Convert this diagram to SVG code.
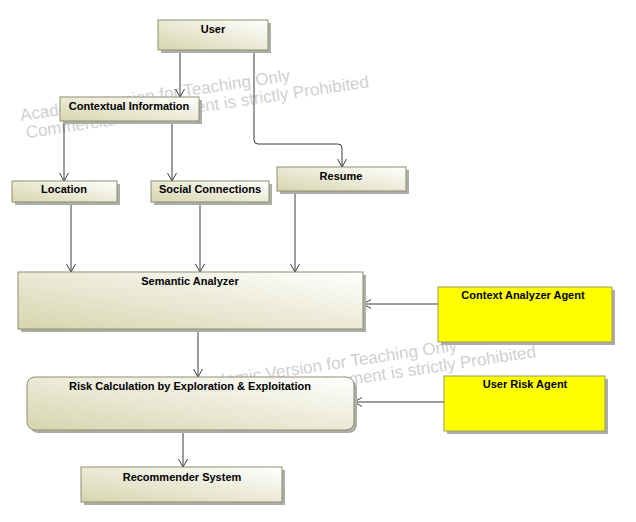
<svg xmlns="http://www.w3.org/2000/svg" width="636" height="522" viewBox="0 0 636 522">
<style>
.bg{fill:#ffffff}
.wm{font-family:"Liberation Sans",Arial,sans-serif;font-size:17px;fill:#d0d0d0}
.sh{fill:#aeaea8}
.box{fill:url(#g);stroke:#8e8d6f;stroke-width:1}
.ag{fill:#ffff00;stroke:#9a9a66;stroke-width:1}
.t{font-family:"Liberation Sans",Arial,sans-serif;font-size:11px;font-weight:bold;fill:#000;text-anchor:middle}
.c{fill:none;stroke:#3c3c3c;stroke-width:1}
</style>
<defs>
<linearGradient id="g" x1="0" y1="1" x2="1" y2="0">
<stop offset="0" stop-color="#d7d5ae"/>
<stop offset="1" stop-color="#ffffff"/>
</linearGradient>
<marker id="a" viewBox="0 0 8 10" refX="8" refY="5" markerWidth="8" markerHeight="10" markerUnits="userSpaceOnUse" orient="auto">
<path d="M0,0.5 L8,5 L0,9.5" fill="none" stroke="#3c3c3c" stroke-width="1"/>
</marker>
</defs>
<rect class="bg" x="0" y="0" width="636" height="522"/>
<g id="watermark">
<g transform="translate(21,121) rotate(-8.5)">
<text class="wm" x="0" y="0">Academic Version for Teaching Only</text>
<text class="wm" x="3" y="18">Commercial Development is strictly Prohibited</text>
</g>
<g transform="translate(188,391) rotate(-8.5)">
<text class="wm" x="0" y="0">Academic Version for Teaching Only</text>
<text class="wm" x="3" y="18">Commercial Development is strictly Prohibited</text>
</g>
</g>
<g id="connectors">
<path class="c" d="M180,50 V97" marker-end="url(#a)"/>
<path class="c" d="M254,50 V140 Q254,144 258,144 H338 Q342,144 342,148 V167" marker-end="url(#a)"/>
<path class="c" d="M64,122 V181" marker-end="url(#a)"/>
<path class="c" d="M172,122 V181" marker-end="url(#a)"/>
<path class="c" d="M71,202 V272" marker-end="url(#a)"/>
<path class="c" d="M200,202 V272" marker-end="url(#a)"/>
<path class="c" d="M295,191 V272" marker-end="url(#a)"/>
<path class="c" d="M438,304 H363" marker-end="url(#a)"/>
<path class="c" d="M198,329 V377" marker-end="url(#a)"/>
<path class="c" d="M444,402 H354" marker-end="url(#a)"/>
<path class="c" d="M183,430 V467" marker-end="url(#a)"/>
</g>
<g id="user">
<rect class="sh" x="161" y="23" width="110" height="30"/>
<rect class="box" x="158" y="20" width="110" height="30"/>
<text class="t" x="213" y="33">User</text>
</g>
<g id="contextual-information">
<rect class="sh" x="63" y="100" width="139" height="24"/>
<rect class="box" x="60" y="97" width="139" height="24"/>
<text class="t" x="129" y="110">Contextual Information</text>
</g>
<g id="resume">
<rect class="sh" x="280" y="170" width="129" height="24"/>
<rect class="box" x="277" y="167" width="129" height="24"/>
<text class="t" x="341" y="180">Resume</text>
</g>
<g id="location">
<rect class="sh" x="15" y="184" width="105" height="21"/>
<rect class="box" x="12" y="181" width="105" height="21"/>
<text class="t" x="64" y="193">Location</text>
</g>
<g id="social-connections">
<rect class="sh" x="154" y="184" width="118" height="21"/>
<rect class="box" x="151" y="181" width="118" height="21"/>
<text class="t" x="210" y="193">Social Connections</text>
</g>
<g id="semantic-analyzer">
<rect class="sh" x="21" y="275" width="345" height="57"/>
<rect class="box" x="18" y="272" width="345" height="57"/>
<text class="t" x="190" y="285">Semantic Analyzer</text>
</g>
<g id="context-analyzer-agent">
<rect class="sh" x="441" y="290" width="174" height="55"/>
<rect class="ag" x="438" y="287" width="174" height="55"/>
<text class="t" x="523" y="299">Context Analyzer Agent</text>
</g>
<g id="risk-calculation">
<rect class="sh" x="30" y="380" width="327" height="53" rx="8" ry="8"/>
<rect class="box" x="27" y="377" width="327" height="53" rx="8" ry="8"/>
<text class="t" x="190" y="390">Risk Calculation by Exploration &amp; Exploitation</text>
</g>
<g id="user-risk-agent">
<rect class="sh" x="447" y="379" width="161" height="55"/>
<rect class="ag" x="444" y="376" width="161" height="55"/>
<text class="t" x="525" y="388">User Risk Agent</text>
</g>
<g id="recommender-system">
<rect class="sh" x="84" y="470" width="201" height="35"/>
<rect class="box" x="81" y="467" width="201" height="35"/>
<text class="t" x="182" y="481">Recommender System</text>
</g>
</svg>
